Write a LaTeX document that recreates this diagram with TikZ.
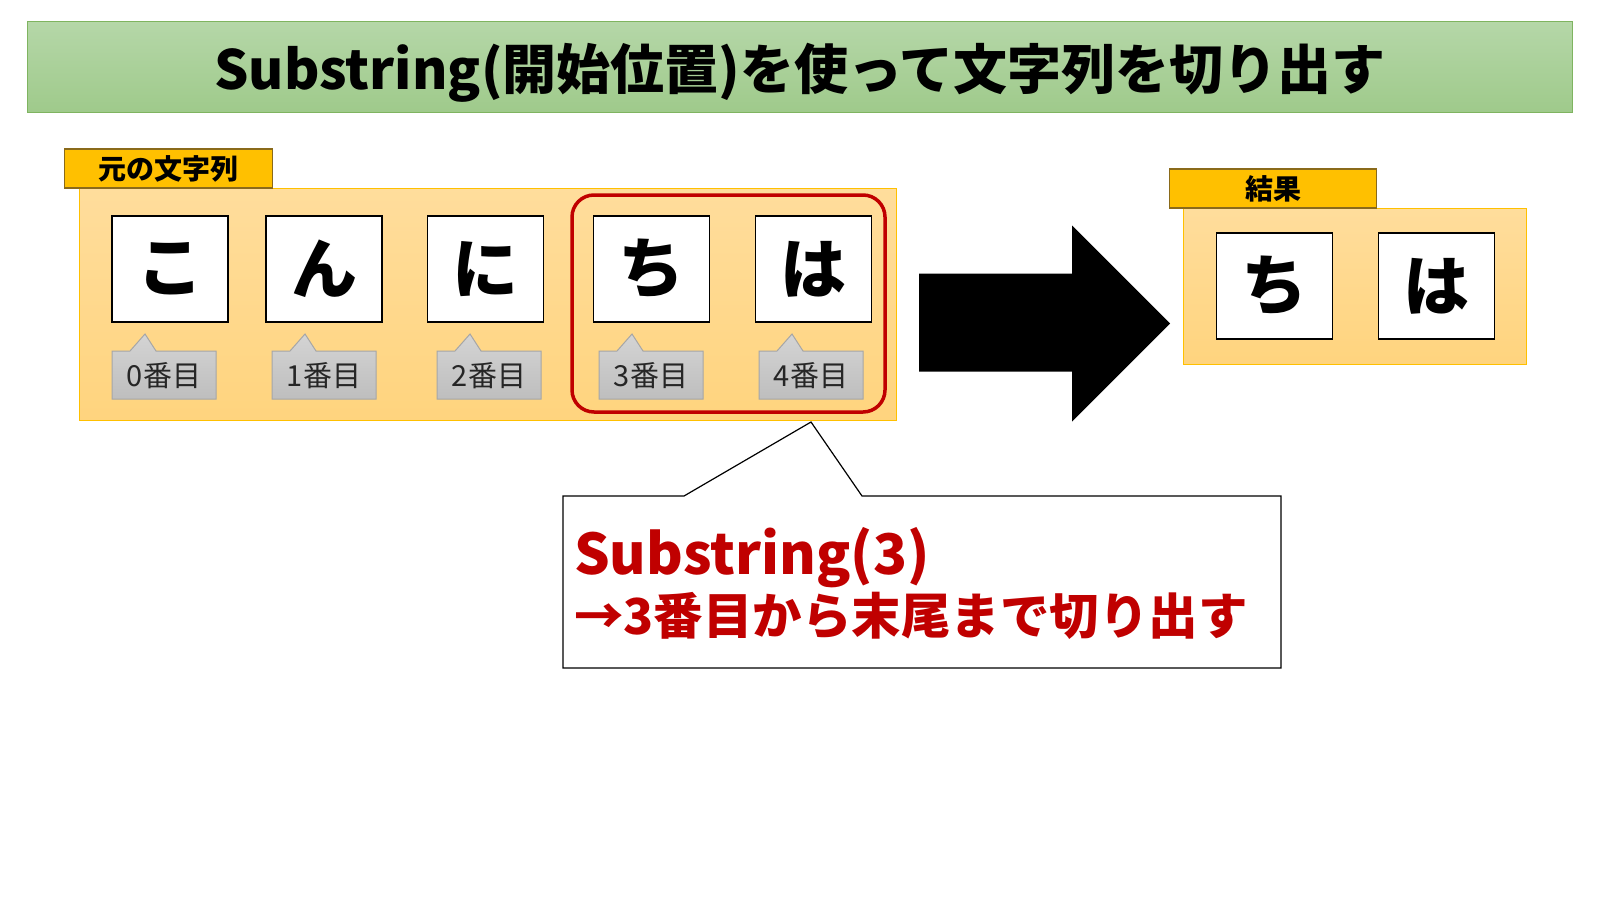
\documentclass[tikz,border=0pt]{standalone}
\usepackage{fontspec}
\setmainfont{Noto Sans CJK JP}
\definecolor{gtop}{HTML}{B5D7A8}
\definecolor{gbot}{HTML}{9FCA8B}
\definecolor{gbd}{HTML}{7FB460}
\definecolor{tagfill}{HTML}{FFC000}
\definecolor{tagbd}{HTML}{8A6A1A}
\definecolor{ptop}{HTML}{FFDD9C}
\definecolor{pbot}{HTML}{FFD47E}
\definecolor{pbd}{HTML}{FFC000}
\definecolor{ltop}{HTML}{D4D4D4}
\definecolor{lbot}{HTML}{BEBEBE}
\definecolor{lbd}{HTML}{A6A6A6}
\definecolor{myred}{HTML}{C00000}
\begin{document}
\begin{tikzpicture}[x=1pt,y=-1pt,
  banner/.style={draw=gbd, line width=1pt, top color=gtop, bottom color=gbot},
  tagbox/.style={draw=tagbd, fill=tagfill, line width=1.3pt},
  panel/.style={draw=pbd, line width=1pt, top color=ptop, bottom color=pbot},
  charbox/.style={draw=black, fill=white, line width=1.5pt, minimum width=116pt, minimum height=106pt, inner sep=0pt, font=\fontsize{66}{66}\selectfont\bfseries},
  idxshape/.style={draw=lbd, line width=1pt, top color=ltop, bottom color=lbot},
  idxtext/.style={font=\fontsize{29}{29}\selectfont, text=black!85, inner sep=0pt},
  tagtext/.style={font=\fontsize{28}{28}\selectfont\bfseries, inner sep=0pt},
  redframe/.style={draw=myred, line width=3.5pt, rounded corners=22pt},
  callout/.style={draw=black, fill=white, line width=1.2pt},
  calltext/.style={text=myred, inner sep=0pt, anchor=base west}
]
\useasboundingbox (0,0) rectangle (1600,900);
% title
\path[banner] (27.5,21.5) rectangle (1572.5,112);
\node[font=\fontsize{54}{54}\selectfont\bfseries, inner sep=0pt] (title) at (800,73) {Substring(開始位置)を使って文字列を切り出す};
% original panel
\path[panel] (79,188) rectangle (896,420);
\path[tagbox] (64.5,149) rectangle (272.5,188);
\node[tagtext] (tag1) at (168.5,168.5) {元の文字列};
\node[charbox] (c0) at (170,269) {こ};
\node[charbox] (c1) at (324,269) {ん};
\node[charbox] (c2) at (485.5,269) {に};
\node[charbox] (c3) at (651.3,269) {ち};
\node[charbox] (c4) at (813.5,269) {は};
% index labels
\foreach \x/\n in {112/0,272/1,437/2,599/3,759/4}{
  \path[idxshape] (\x,351) -- (\x+18,351) -- (\x+33,334) -- (\x+44,351) -- (\x+104,351) -- (\x+104,399) -- (\x,399) -- cycle;
  \node[idxtext] (i\n) at (\x+52,376) {\n 番目};
}
\draw[redframe] (572,195) rectangle (885,412);
% big arrow
\fill[black] (919,273.5) -- (1072,273.5) -- (1072,225.5) -- (1170,323.5) -- (1072,421.5) -- (1072,371.5) -- (919,371.5) -- cycle;
% result panel
\path[panel] (1183.5,208) rectangle (1526.5,364);
\path[tagbox] (1169.5,169) rectangle (1376.5,208);
\node[tagtext] (tag2) at (1273,188.5) {結果};
\node[charbox] (r0) at (1274.7,286) {ち};
\node[charbox] (r1) at (1436.7,286) {は};
% callout
\path[callout] (563,496) -- (684,496) -- (811,422) -- (862,496) -- (1281,496) -- (1281,668) -- (563,668) -- cycle;
\node[calltext, font=\fontsize{56}{56}\selectfont\bfseries] (ct1) at (574,574) {Substring(3)};
\node[calltext, font=\fontsize{49.5}{50}\selectfont\bfseries] (ct2) at (574,634) {→3番目から末尾まで切り出す};
\end{tikzpicture}
\end{document}
